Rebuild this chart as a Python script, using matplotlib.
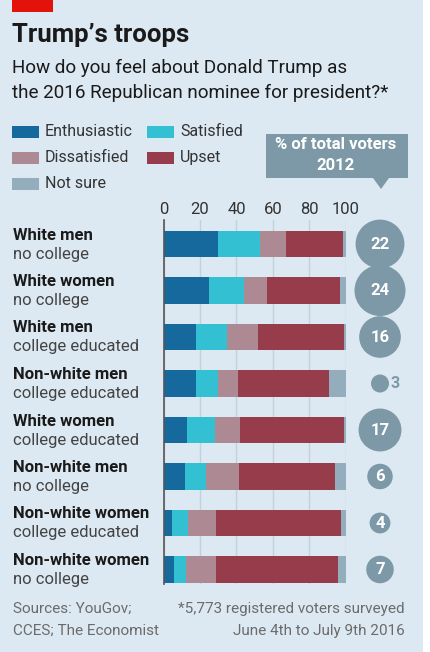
import matplotlib
matplotlib.use("Agg")
import matplotlib.pyplot as plt
from matplotlib.patches import Rectangle, Polygon
import numpy as np

# data (percent of each group)
groups_bold = ["White men", "White women", "White men", "Non-white men",
               "White women", "Non-white men", "Non-white women", "Non-white women"]
groups_sub = ["no college", "no college", "college educated", "college educated",
              "college educated", "no college", "college educated", "no college"]
enthusiastic = [30, 25, 18, 18, 13, 11.5, 4.5, 5.5]
satisfied = [23, 19, 17, 12, 15, 11.5, 9, 6.5]
dissatisfied = [14, 13, 17, 11, 14, 18.5, 15, 16.5]
upset = [31.5, 40, 47, 50, 57, 52.5, 69, 67.5]
not_sure = [1.5, 3, 1, 9, 1, 6, 2.5, 4]
share_2012 = [22, 24, 16, 3, 17, 6, 4, 7]

series = ["Enthusiastic", "Satisfied", "Dissatisfied", "Upset", "Not sure"]
colors = ["#15699c", "#33c0d3", "#ad8a93", "#963c4b", "#93adbc"]

BG = "#dde9f2"
GREY_BLUE = "#7d99a7"
W, H = 431, 652

plt.rcParams['font.family'] = ['Roboto', 'DejaVu Sans']

fig = plt.figure(figsize=(W / 100, H / 100), dpi=100)
fig.patch.set_facecolor("white")


def fx(px):
    return px / W


def fy(py):
    return 1 - py / H


# background panel and red tag
fig.patches.append(Rectangle((0, 0), fx(423), 1, transform=fig.transFigure,
                             facecolor=BG, edgecolor="none", zorder=-10))
fig.patches.append(Rectangle((fx(12), fy(12)), fx(41), 12 / H, transform=fig.transFigure,
                             facecolor="#e3120b", edgecolor="none", zorder=1))

fig.text(fx(12), fy(35), "Trump\u2019s troops", fontsize=18.5, fontweight="bold",
         color="#1a1a1a", va="center", ha="left")
fig.text(fx(12), fy(68), "How do you feel about Donald Trump as", fontsize=13.6,
         color="#1a1a1a", va="center")
fig.text(fx(12), fy(93), "the 2016 Republican nominee for president?*", fontsize=13.6,
         color="#1a1a1a", va="center")

# legend
leg_pos = [(12, 132), (147, 132), (12, 158), (147, 158), (12, 184)]
for (x0, y0), name, c in zip(leg_pos, series, colors):
    fig.patches.append(Rectangle((fx(x0), fy(y0 + 6)), fx(27), 12 / H,
                                 transform=fig.transFigure, facecolor=c,
                                 edgecolor="none", zorder=2))
    fig.text(fx(x0 + 33), fy(y0), name, fontsize=11.5, color="#333333", va="center")

# callout box
fig.patches.append(Rectangle((fx(266), fy(178)), fx(142), 44 / H,
                             transform=fig.transFigure, facecolor=GREY_BLUE,
                             edgecolor="none", zorder=2))
fig.patches.append(Polygon([(fx(373), fy(178)), (fx(389), fy(178)), (fx(381), fy(189))],
                           closed=True, transform=fig.transFigure,
                           facecolor=GREY_BLUE, edgecolor="none", zorder=2))
fig.text(fx(336), fy(145), "% of total voters", fontsize=12, fontweight="bold",
         color="white", ha="center", va="center", zorder=3)
fig.text(fx(336), fy(165), "2012", fontsize=12, fontweight="bold",
         color="white", ha="center", va="center", zorder=3)

# bar axes
top_px, bot_px = 220, 584
ax = fig.add_axes([fx(163.7), fy(bot_px), fx(182), (bot_px - top_px) / H])
ax.set_facecolor("none")
y = np.arange(len(enthusiastic))
row_h = 46.5
ax.set_ylim((bot_px - 244) / row_h, (top_px - 244) / row_h)
ax.set_xlim(0, 100)

left = np.zeros(len(y))
for vals, c in zip([enthusiastic, satisfied, dissatisfied, upset, not_sure], colors):
    ax.barh(y, vals, left=left, height=0.58, color=c, edgecolor="none", zorder=3)
    left += np.array(vals)

ax.set_xticks([0, 20, 40, 60, 80, 100])
ax.xaxis.tick_top()
ax.tick_params(axis="x", length=0, labelsize=12, labelcolor="#333333", pad=2)
ax.set_yticks([])
ax.grid(axis="x", color="#c3d1db", linewidth=1, zorder=1)
for s in ["top", "right", "bottom"]:
    ax.spines[s].set_visible(False)
ax.spines["left"].set_color("#555555")
ax.spines["left"].set_linewidth(1.2)
ax.spines["left"].set_zorder(4)

# bubbles for share of 2012 voters
bx = (380 - 163.7) / 1.82
radius = 25.5 * np.sqrt(np.array(share_2012) / 24.0)
sizes = (2 * radius * 0.72) ** 2
ax.scatter(np.full(len(y), bx), y, s=sizes, color=GREY_BLUE, edgecolor="none",
           clip_on=False, zorder=5)
for yi, v, r in zip(y, share_2012, radius):
    if v >= 4:
        ax.text(bx, yi, str(v), ha="center", va="center", color="white",
                fontsize=12, fontweight="bold", zorder=6, clip_on=False)
    else:
        ax.annotate(str(v), (bx, yi), xytext=(r * 0.72 + 1, 0), textcoords="offset points",
                    ha="left", va="center", color=GREY_BLUE, fontsize=11.5,
                    fontweight="bold", annotation_clip=False)

# row labels
for i, (b, s) in enumerate(zip(groups_bold, groups_sub)):
    yc = 244 + row_h * i
    fig.text(fx(13), fy(yc - 9), b, fontsize=12, fontweight="bold",
             color="#1a1a1a", va="center")
    fig.text(fx(13), fy(yc + 10), s, fontsize=12, color="#444444", va="center")

# footer
fig.text(fx(13), fy(609), "Sources: YouGov;", fontsize=11, color="#6b6b6b", va="center")
fig.text(fx(13), fy(631), "CCES; The Economist", fontsize=11, color="#6b6b6b", va="center")
fig.text(fx(405), fy(609), "*5,773 registered voters surveyed", fontsize=11,
         color="#6b6b6b", va="center", ha="right")
fig.text(fx(405), fy(631), "June 4th to July 9th 2016", fontsize=11,
         color="#6b6b6b", va="center", ha="right")

fig.savefig("out.png", dpi=100, facecolor=fig.get_facecolor())
